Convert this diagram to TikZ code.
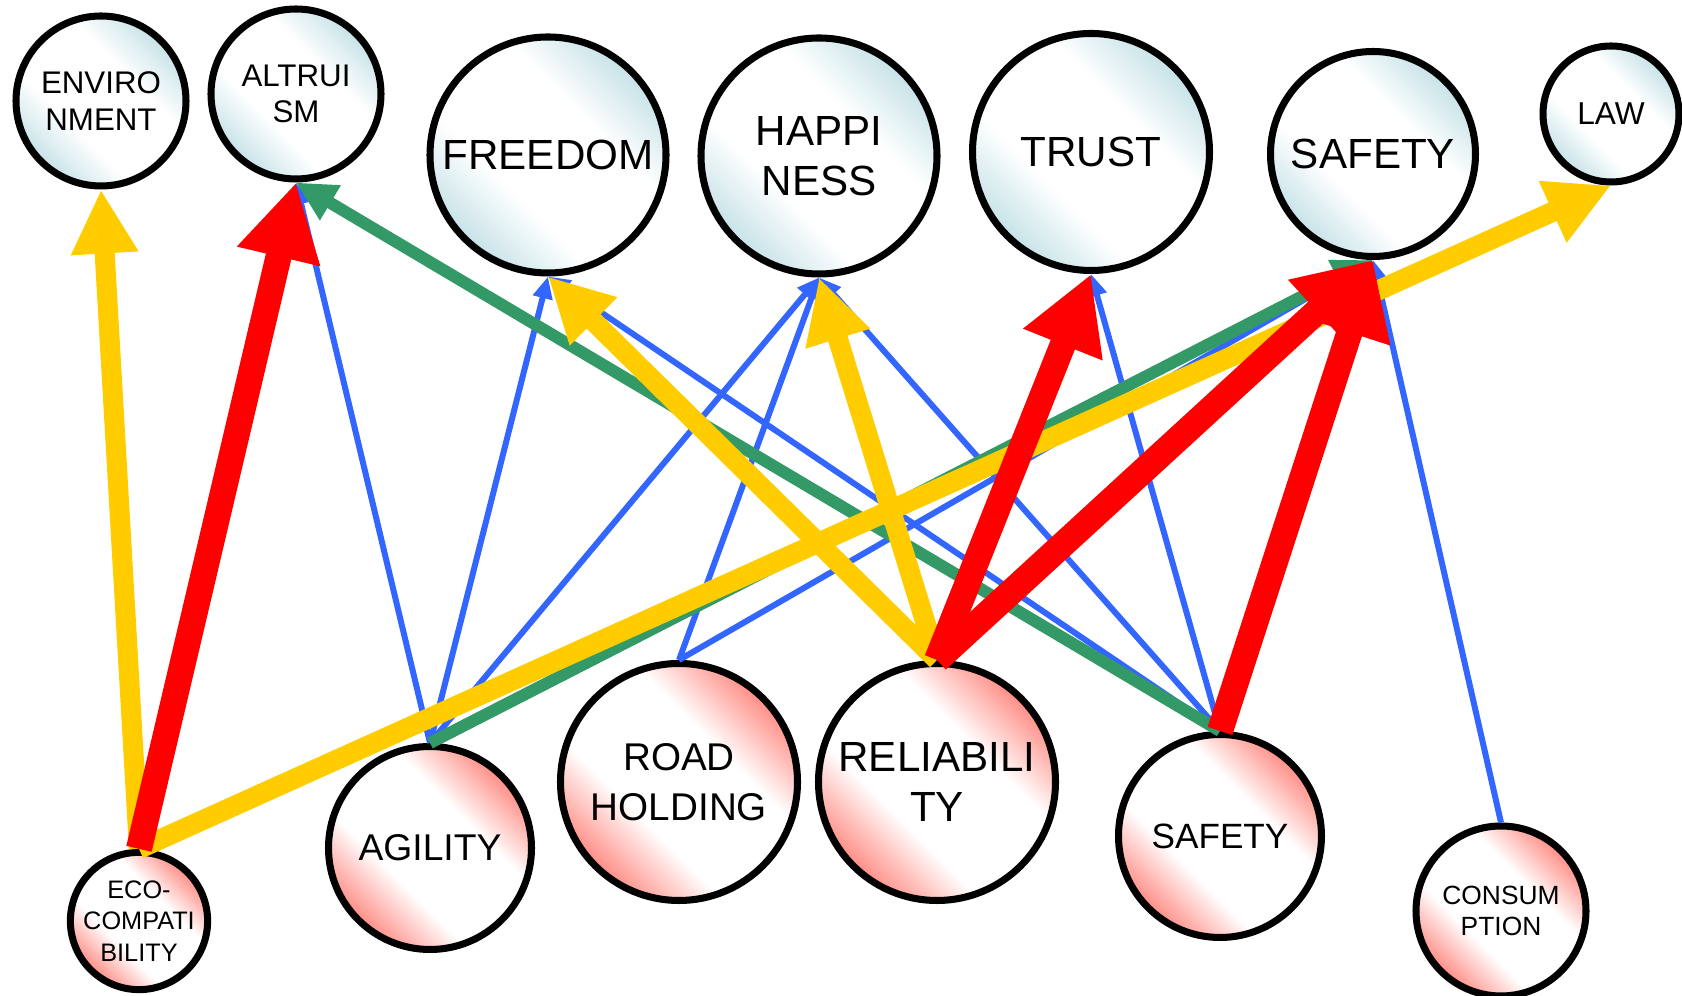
\documentclass[tikz,border=0pt]{standalone}
\usepackage{fontspec}
\setmainfont{Liberation Sans}
\usepackage{tikz}
\usetikzlibrary{arrows.meta}
\definecolor{valuecolor}{HTML}{C6E2E7}
\definecolor{attrcolor}{HTML}{FF8C84}
\definecolor{linkred}{HTML}{FF0000}
\definecolor{linkyellow}{HTML}{FFCC00}
\definecolor{linkgreen}{HTML}{339966}
\definecolor{linkblue}{HTML}{3366FF}
\pgfdeclarehorizontalshading{valueglass}{100bp}{color(0bp)=(valuecolor); color(25bp)=(valuecolor); color(39bp)=(white); color(61bp)=(white); color(75bp)=(valuecolor); color(100bp)=(valuecolor)}
\pgfdeclarehorizontalshading{attrglass}{100bp}{color(0bp)=(attrcolor); color(25bp)=(attrcolor); color(39bp)=(white); color(61bp)=(white); color(75bp)=(attrcolor); color(100bp)=(attrcolor)}

\begin{document}
\begin{tikzpicture}[
    every node/.style={circle, draw, line width=2pt,
                       inner sep=0pt,
                       align=center},
    valuenode/.style={shading=valueglass, shading angle=45},
    attrnode/.style={shading=attrglass, shading angle=45},
    redlink/.style={draw=linkred, line width=7.4pt,
                    -{Triangle[length=0.76cm, width=0.8cm]}},
    yellowlink/.style={draw=linkyellow, line width=5.7pt,
                       -{Triangle[length=0.64cm, width=0.63cm]}},
    greenlink/.style={draw=linkgreen, line width=3.4pt,
                      -{Triangle[length=0.4cm, width=0.38cm]}},
    bluelink/.style={draw=linkblue, line width=1.7pt,
                     -{Triangle[length=0.22cm, width=0.19cm]}}
]
\useasboundingbox (0,0) rectangle (16.82,9.96);

% values (top row)
\node[valuenode, minimum size=1.7cm, font=\fontsize{8.9}{10.4}\selectfont] (environment) at (1.01,8.95) {ENVIRO\\NMENT};
\node[valuenode, minimum size=1.7cm, font=\fontsize{8.9}{10.4}\selectfont] (altruism) at (2.96,9.02) {ALTRUI\\SM};
\node[valuenode, minimum size=2.36cm, font=\fontsize{12}{14.2}\selectfont] (freedom) at (5.48,8.41) {FREEDOM};
\node[valuenode, minimum size=2.36cm, font=\fontsize{12}{14.2}\selectfont] (happiness) at (8.19,8.40) {HAPPI\\NESS};
\node[valuenode, minimum size=2.37cm, font=\fontsize{12}{14.2}\selectfont] (trust) at (10.91,8.44) {TRUST};
\node[valuenode, minimum size=2.05cm, font=\fontsize{12}{14.2}\selectfont] (safetyvalue) at (13.73,8.42) {SAFETY};
\node[valuenode, minimum size=1.36cm, font=\fontsize{9}{10.8}\selectfont] (law) at (16.11,8.82) {LAW};

% attributes (bottom row)
\node[attrnode, minimum size=1.36cm, font=\fontsize{7.2}{9}\selectfont] (ecocompat) at (1.39,0.75) {ECO-\\COMPATI\\BILITY};
\node[attrnode, minimum size=2.03cm, font=\fontsize{10.6}{12.7}\selectfont] (agility) at (4.30,1.48) {AGILITY};
\node[attrnode, minimum size=2.37cm, font=\fontsize{11}{14.2}\selectfont] (roadholding) at (6.79,2.14) {ROAD\\HOLDING};
\node[attrnode, minimum size=2.37cm, font=\fontsize{12}{14.2}\selectfont] (reliability) at (9.37,2.14) {RELIABILI\\TY};
\node[attrnode, minimum size=2.03cm, font=\fontsize{10}{12}\selectfont] (safetyattr) at (12.20,1.60) {SAFETY};
\node[attrnode, minimum size=1.7cm, font=\fontsize{7.5}{9}\selectfont] (consumption) at (15.01,0.85) {CONSUM\\PTION};

% weak links
\draw[bluelink] (agility.north) -- (altruism.south);
\draw[bluelink] (agility.north) -- (freedom.south);
\draw[bluelink] (agility.north) -- (happiness.south);
\draw[bluelink] (roadholding.north) -- (happiness.south);
\draw[bluelink] (roadholding.north) -- (safetyvalue.south);
\draw[bluelink] (safetyattr.north) -- (freedom.south);
\draw[bluelink] (safetyattr.north) -- (happiness.south);
\draw[bluelink] (safetyattr.north) -- (trust.south);
\draw[bluelink] (consumption.north) -- (safetyvalue.south);

% medium links
\draw[greenlink] (safetyattr.north) -- (altruism.south);
\draw[greenlink] (agility.north) -- (safetyvalue.south);

% strong links
\draw[yellowlink] (ecocompat.north) -- (environment.south);
\draw[yellowlink] (ecocompat.north) -- (law.south);
\draw[yellowlink] (reliability.north) -- (freedom.south);
\draw[yellowlink] (reliability.north) -- (happiness.south);

% strongest links
\draw[redlink] (ecocompat.north) -- (altruism.south);
\draw[redlink] (reliability.north) -- (trust.south);
\draw[redlink] (reliability.north) -- (safetyvalue.south);
\draw[redlink] (safetyattr.north) -- (safetyvalue.south);
\end{tikzpicture}
\end{document}
